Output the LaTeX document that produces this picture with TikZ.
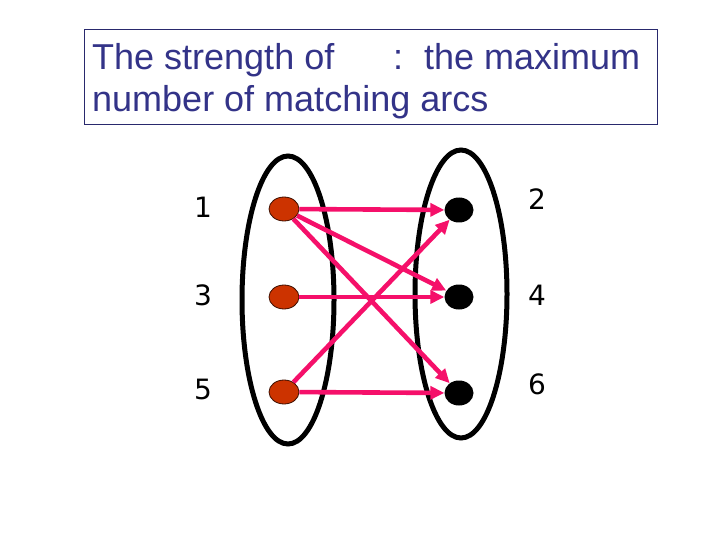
\documentclass[tikz,border=0pt]{standalone}
\usepackage{fontspec}
\setmainfont{Liberation Sans}
\newfontfamily\digfont{DejaVu Sans}
\usetikzlibrary{shapes.geometric,arrows.meta}
\definecolor{titleblue}{HTML}{333388}
\definecolor{arcpink}{HTML}{F5106A}
\definecolor{lnode}{HTML}{CC3300}
\begin{document}
\begin{tikzpicture}[x=1pt,y=-1pt,
  group/.style={ellipse,draw=black,line width=5pt,minimum width=92pt,minimum height=288pt,inner sep=0pt},
  lvert/.style={ellipse,draw=black!70!lnode,line width=0.8pt,fill=lnode,minimum width=30pt,minimum height=24pt,inner sep=0pt},
  rvert/.style={ellipse,fill=black,minimum width=29pt,minimum height=25pt,inner sep=0pt},
  arc/.style={draw=arcpink,line width=4.6pt,-{Triangle[length=14pt,width=13pt]}},
  lab/.style={font=\digfont\fontsize{28}{30}\selectfont,inner sep=0pt},
  ttl/.style={font=\fontsize{36}{40}\selectfont,text=titleblue,inner sep=0pt,anchor=base west}]
\useasboundingbox (0,0) rectangle (720,540);
\fill[white] (0,0) rectangle (720,540);
% title box
\node[draw=titleblue!80!black,line width=0.8pt,minimum width=573pt,minimum height=95pt,anchor=north west,inner sep=0pt] (box) at (84,29) {};
\node[ttl] (t1) at (92,70) {The strength of};
\node[ttl] (t2) at (393,70) {:};
\node[ttl] (t3) at (424,70) {the maximum};
\node[ttl] (t4) at (92,112) {number of matching arcs};
% groups
\node[group] (L) at (288,300) {};
\node[group] (R) at (461,294) {};
% vertices
\node[lvert] (v1) at (284,209) {};
\node[lvert] (v3) at (284,297) {};
\node[lvert] (v5) at (284,392) {};
\node[rvert] (v2) at (459,210) {};
\node[rvert] (v4) at (459,297) {};
\node[rvert] (v6) at (459,393) {};
% labels
\node[lab] (l1) at (203,207) {1};
\node[lab] (l3) at (203,295) {3};
\node[lab] (l5) at (203,389) {5};
\node[lab] (l2) at (537,199) {2};
\node[lab] (l4) at (537,295) {4};
\node[lab] (l6) at (537,384) {6};
% arcs
\draw[arc] (v1) -- (v2);
\draw[arc] (v1) -- (v4);
\draw[arc] (v1) -- (v6);
\draw[arc] (v3) -- (v4);
\draw[arc] (v5) -- (v6);
\draw[arc] (v5) -- (v2);
\end{tikzpicture}
\end{document}
